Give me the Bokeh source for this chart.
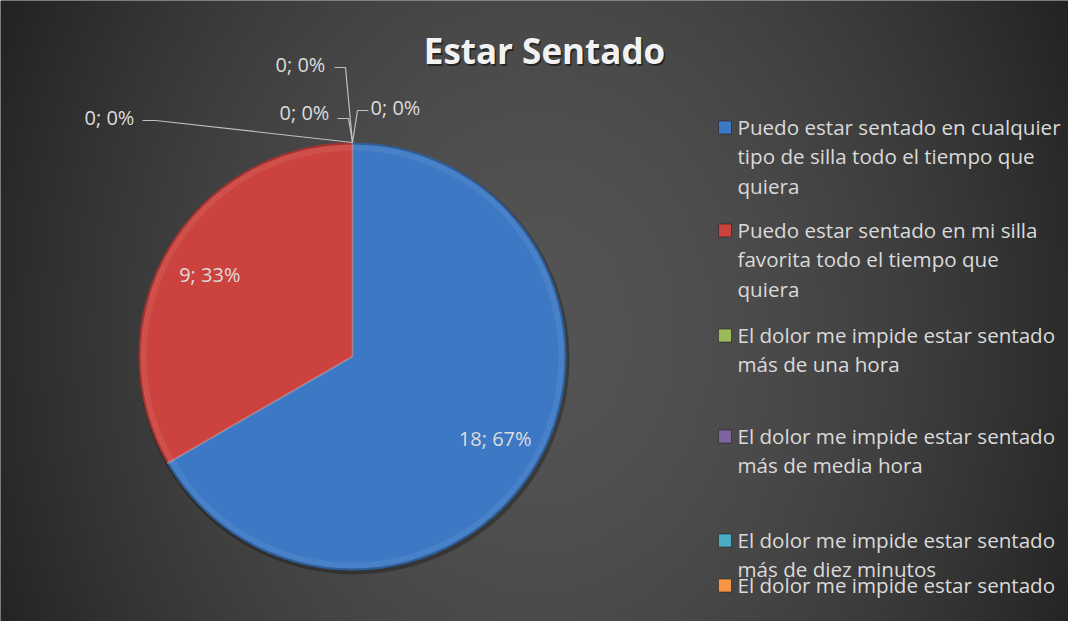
import numpy as np
from bokeh.plotting import figure
from bokeh.models import Range1d, ColumnDataSource
from bokeh.core.properties import value
from bokeh.embed import file_html
from bokeh.resources import INLINE

# ---------------- data ----------------
title = "Estar Sentado"
categories = [
    "Puedo estar sentado en cualquier\ntipo de silla todo el tiempo que\nquiera",
    "Puedo estar sentado en mi silla\nfavorita todo el tiempo que\nquiera",
    "El dolor me impide estar sentado\nmás de una  hora",
    "El dolor me impide estar sentado\nmás de media hora",
    "El dolor me impide estar sentado\nmás de diez minutos",
    "El dolor me impide estar sentado",
]
counts = [18, 9, 0, 0, 0, 0]
colors = ["#3c78c4", "#cc423e", "#9bbb59", "#8064a2", "#4bacc6", "#f79646"]

# ---------------- layout helpers ----------------
W, H = 1068, 621
FONT = "Open Sans"


def X(rx):
    return rx - 8


def Y(ry):
    return 8 + H - ry


p = figure(width=W, height=H, output_backend="svg", toolbar_location=None,
           x_range=Range1d(0, W), y_range=Range1d(0, H),
           x_axis_type=None, y_axis_type=None, min_border=0)
p.grid.visible = False
p.outline_line_color = None
p.background_fill_color = "#333333"
p.border_fill_color = "#333333"

# ---------------- background radial gradient ----------------
step = 3
gx = np.arange(0, W, step) + step / 2
gy = np.arange(0, H, step) + step / 2
GX, GY = np.meshgrid(gx, gy)
cx, cy = X(545), Y(340)
d = np.sqrt(((GX - cx) / 540.0) ** 2 + ((GY - cy) / 680.0) ** 2)
d = np.clip(d, 0, 1.12) / 1.12
lev = (0x54 - (0x54 - 0x21) * d ** 1.7).astype(np.uint32)
img = (255 << 24) | (lev << 16) | (lev << 8) | lev
p.image_rgba(image=[img.astype(np.uint32)], x=0, y=0, dw=W, dh=H)

# ---------------- pie ----------------
CX, CY, R = X(360), Y(364), 214
total = float(sum(counts))
fr = np.array(counts) / total
ends = np.cumsum(fr)
starts = ends - fr
start_ang = np.pi / 2 - 2 * np.pi * starts
end_ang = np.pi / 2 - 2 * np.pi * ends
nz = [i for i in range(len(counts)) if counts[i] > 0]

src = ColumnDataSource(dict(
    start=[start_ang[i] for i in nz],
    end=[end_ang[i] for i in nz],
    color=[colors[i] for i in nz],
))

# shadow
p.circle(x=CX + 1.5, y=CY - 2.5, radius=R + 1.5, fill_color="black", fill_alpha=0.28,
         line_color=None)
p.wedge(x=CX, y=CY, radius=R, start_angle="start", end_angle="end",
        direction="clock", fill_color="color", line_color=None, source=src)
# bevel: inner highlight and dark rim
p.annular_wedge(x=CX, y=CY, inner_radius=R - 8, outer_radius=R - 2,
                start_angle="start", end_angle="end", direction="clock",
                fill_color="white", fill_alpha=0.07, line_color=None, source=src)
p.annular_wedge(x=CX, y=CY, inner_radius=R - 2, outer_radius=R,
                start_angle="start", end_angle="end", direction="clock",
                fill_color="black", fill_alpha=0.22, line_color=None, source=src)
# slice separators
sep_x = [[CX, CX + R * np.cos(a)] for a in [start_ang[i] for i in nz]]
sep_y = [[CY, CY + R * np.sin(a)] for a in [start_ang[i] for i in nz]]
p.multi_line(xs=sep_x, ys=sep_y, line_color="white", line_alpha=0.3, line_width=1.5)

# data labels for non-zero slices
mid = (start_ang + end_ang) / 2
lab_r = 0.77 * R
lab_src = ColumnDataSource(dict(
    x=[CX + lab_r * np.cos(mid[i]) for i in nz],
    y=[CY + lab_r * np.sin(mid[i]) for i in nz],
    t=[f"{counts[i]}; {round(100 * counts[i] / total)}%" for i in nz],
))
p.text(x="x", y="y", text="t", source=lab_src, text_font=value(FONT),
       text_font_size="20px", text_color="#dcdcdc", text_align="center",
       text_baseline="middle")

# labels for zero slices with leader lines
zero_idx = [i for i in range(len(counts)) if counts[i] == 0]
zero_pos = [  # (text x, text y, leader path) in reference pixels
    (378, 115, [(376, 118), (365, 118), (360, 150)]),
    (287, 120, [(345, 126), (356, 126), (360, 150)]),
    (283, 72, [(342, 75), (353, 75), (360, 150)]),
    (92, 125, [(150, 128), (163, 128), (360, 150)]),
]
zx, zy, zt, lx, ly = [], [], [], [], []
for k, i in enumerate(zero_idx):
    tx, ty, path = zero_pos[k]
    zx.append(X(tx))
    zy.append(Y(ty))
    zt.append(f"{counts[i]}; {round(100 * counts[i] / total)}%")
    lx.append([X(a) for a, b in path])
    ly.append([Y(b) for a, b in path])
p.multi_line(xs=lx, ys=ly, line_color="#c0c0c0", line_width=1.2)
p.text(x=zx, y=zy, text=zt, text_font=value(FONT), text_font_size="20px",
       text_color="#dcdcdc", text_align="left", text_baseline="middle")

# ---------------- title ----------------
p.text(x=[X(552) + 1.5], y=[Y(58) - 2], text=[title], text_font=value(FONT),
       text_font_size="35px", text_font_style="bold", text_color="black",
       text_alpha=0.5, text_align="center", text_baseline="middle")
p.text(x=[X(552)], y=[Y(58)], text=[title], text_font=value(FONT),
       text_font_size="35px", text_font_style="bold", text_color="#f2f2f2",
       text_align="center", text_baseline="middle")

# ---------------- legend ----------------
entry_y = [134, 237, 342, 443, 547, 592]
line_h = 29.5
tx_, ty_, tt_ = [], [], []
for i, cat in enumerate(categories):
    for j, line in enumerate(cat.split("\n")):
        tx_.append(X(745))
        ty_.append(Y(entry_y[i] + j * line_h))
        tt_.append(line)
p.rect(x=[X(732.5)] * len(categories), y=[Y(v + 1) for v in entry_y],
       width=13, height=13, fill_color=colors, line_color="#222222",
       line_alpha=0.6)
p.text(x=tx_, y=ty_, text=tt_, text_font=value(FONT), text_font_size="20.6px",
       text_color="#dadada", text_align="left", text_baseline="middle")

open("out.html", "w").write(file_html(p, INLINE))
